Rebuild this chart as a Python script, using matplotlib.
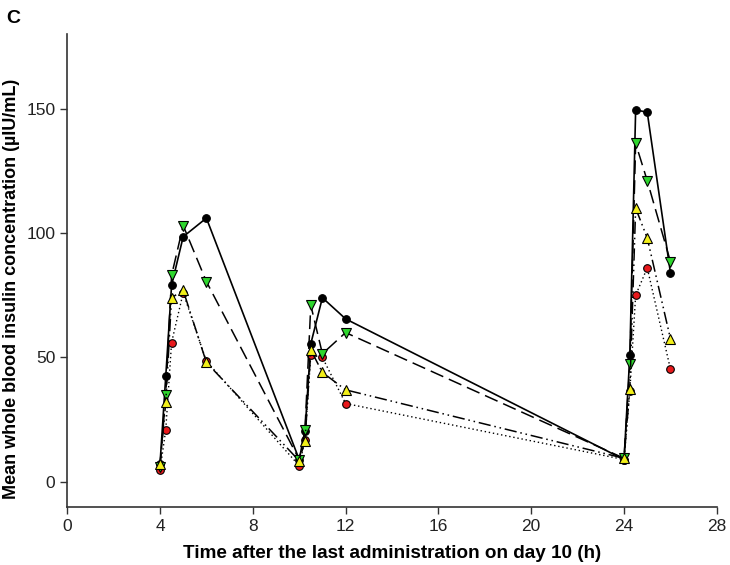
import numpy as np
import matplotlib
matplotlib.use("Agg")
import matplotlib.pyplot as plt

# time points (h) after last administration on day 10
time_h = [4, 4.25, 4.5, 5, 6, 10, 10.25, 10.5, 11, 12, 24, 24.25, 24.5, 25, 26]

# mean whole blood insulin (uIU/mL)
black_circ = [7, 42.5, 79, 98.5, 106, 9, 20.5, 55.5, 74, 65.5, 9, 51, 149.5, 148.5, 84]
green_down = [6, 35, 83, 103, 80.5, 9, 21, 71, 51.5, 60, 9.5, 47.5, 136, 121, 88.5]
yellow_up = [7, 32, 74, 77, 48, 8.5, 16.5, 53, 44, 37, 9.5, 37.5, 110, 98, 57.5]
red_circ = [4.7, 21, 56, 76, 48.5, 6.5, 17, 51, 50, 31.5, 9, 36.5, 75, 86, 45.3]

x_ticks = [0, 4, 8, 12, 16, 20, 24, 28]
y_ticks = [0, 50, 100, 150]

plt.rcParams['font.family'] = ['Liberation Sans', 'DejaVu Sans']

fig = plt.figure(figsize=(7.3, 5.65), dpi=100)
ax = fig.add_axes([0.092, 0.103, 0.890, 0.837])

ax.plot(time_h, black_circ, '-', color='black', lw=1.2, marker='o', ms=5.5,
        mfc='black', mec='black', mew=0.8, zorder=2)
ax.plot(time_h, red_circ, color='black', lw=1.0, dashes=(1, 2), marker='o', ms=5.5,
        mfc='#e8191c', mec='black', mew=0.8, zorder=3)
ax.plot(time_h, green_down, color='black', lw=1.1, dashes=(9, 4), marker='v', ms=6.5,
        mfc='#2ed62e', mec='black', mew=0.8, zorder=4)
ax.plot(time_h, yellow_up, color='black', lw=1.1, dashes=(8, 2.5, 1, 2.5, 1, 2.5),
        marker='^', ms=6.5, mfc='#f2ef1a', mec='black', mew=0.8, zorder=5)

ax.set_xlim(0, 28)
ax.set_ylim(-10, 180)
ax.set_xticks(x_ticks)
ax.set_yticks(y_ticks)
ax.tick_params(direction='out', length=5, width=1, colors='#333333',
               labelcolor='#222222', labelsize=12.5)

for s in ['top', 'right']:
    ax.spines[s].set_visible(False)
for s in ['left', 'bottom']:
    ax.spines[s].set_linewidth(1.2)
    ax.spines[s].set_color('#333333')

ax.set_xlabel('Time after the last administration on day 10 (h)', fontsize=13.6,
              fontweight='bold', labelpad=8)
ax.set_ylabel('Mean whole blood insulin concentration (µIU/mL)', fontsize=13,
              fontweight='bold')
ax.yaxis.set_label_coords(-0.072, 0.46)

fig.text(0.008, 0.968, 'C', fontsize=14, fontweight='bold', va='center', ha='left')

fig.savefig('out.png', dpi=100)
